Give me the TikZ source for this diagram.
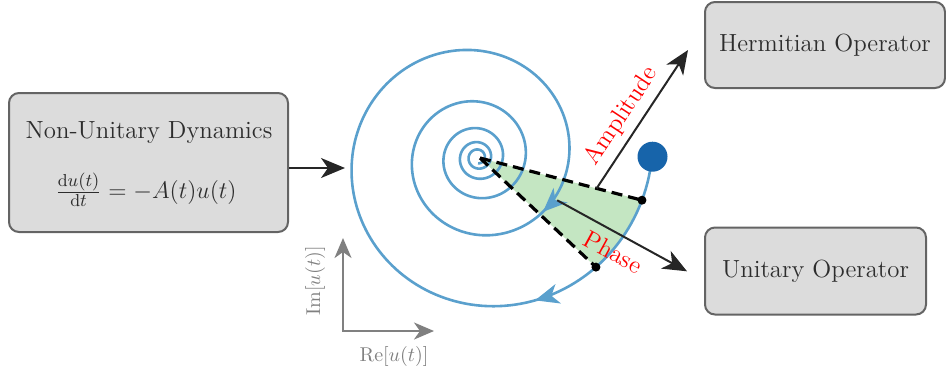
\documentclass[tikz,border=0pt]{standalone}
\usepackage{fontspec}
\usetikzlibrary{arrows.meta,calc,decorations.markings}
\definecolor{spiralblue}{RGB}{90,160,205}
\definecolor{dotblue}{RGB}{23,100,170}
\definecolor{sectorgreen}{RGB}{196,230,194}
\definecolor{boxfill}{RGB}{220,220,220}
\definecolor{boxline}{RGB}{100,100,100}
\definecolor{txtgray}{RGB}{45,45,45}
\definecolor{axisgray}{RGB}{128,128,128}
\begin{document}
\begin{tikzpicture}[x=0.5pt,y=-0.5pt,
  font=\fontsize{12.4}{14.8}\selectfont,
  declare function={sr(\t)=125.8*exp(0.0018064*(\t-180));},
  opbox/.style={draw=boxline, fill=boxfill, line width=1pt, rounded corners=5pt, text=txtgray, inner sep=0pt},
  btext/.style={text=txtgray, inner sep=0pt},
  conn/.style={line width=1pt, draw=black!85, -{Stealth[length=12pt,width=10pt,inset=3.5pt]}},
  spiralline/.style={draw=spiralblue, line width=1.3pt},
  axisline/.style={draw=axisgray, line width=1.3pt, {Stealth[length=10pt,width=8.5pt,inset=3pt]}-{Stealth[length=10pt,width=8.5pt,inset=3pt]}},
  radial/.style={line width=1.6pt, dash pattern=on 5.5pt off 3pt},
  enddot/.style={circle, fill=black, inner sep=0pt, minimum size=4.5pt},
  lbl/.style={text=red},
  axlbl/.style={text=axisgray, font=\fontsize{10}{12}\selectfont},
]
\useasboundingbox (0,0) rectangle (946,377);

% boxes
\node[opbox, minimum width=139.5pt, minimum height=69.5pt] (nud) at (148.5,162.5) {};
\node[btext] (nudtitle) at (149,133) {Non-Unitary Dynamics};
\node[btext] (nudeq) at (146,190) {$\frac{\mathrm{d}u(t)}{\mathrm{d}t} = -A(t)u(t)$};
\node[opbox, minimum width=120pt, minimum height=43pt] (herm) at (825,45) {Hermitian Operator};
\node[opbox, minimum width=110.5pt, minimum height=43.5pt] (unit) at (815.5,271) {Unitary Operator};

% sector
\coordinate (apex) at (480,158);
\coordinate (p1) at ({478+sr(345.4)*cos(345.4)},{157.5-sr(345.4)*sin(345.4)});
\coordinate (p2) at ({478+sr(317.1)*cos(317.1)},{157.5-sr(317.1)*sin(317.1)});
\fill[sectorgreen] (apex) -- plot[domain=345.4:317.1, samples=30] ({478+sr(\x)*cos(\x)},{157.5-sr(\x)*sin(\x)}) -- cycle;

% spiral
\draw[spiralline, postaction={decorate}, decoration={markings,
  mark=at position 98pt with {\arrow[spiralblue]{Stealth[length=12pt,width=10pt,inset=3.5pt]}},
  mark=at position 435pt with {\arrow[spiralblue]{Stealth[length=12pt,width=10pt,inset=3.5pt]}}}]
  plot[domain=360:-1530, samples=900] ({478+sr(\x)*cos(\x)},{157.5-sr(\x)*sin(\x)});
\node[circle, fill=dotblue, minimum size=15pt, inner sep=0pt] (bdot) at (652.5,156.7) {};

\draw[radial] (apex) -- (p1);
\draw[radial] (apex) -- (p2);
\node[enddot] (d1) at (p1) {};
\node[enddot] (d2) at (p2) {};

% arrows
\coordinate (inlet) at (345,168);
\draw[conn] (nud.east |- inlet) -- (inlet);
\coordinate (amps) at ($(apex)!0.72!(p1)$);
\coordinate (ampe) at (688,50);
\draw[conn] (amps) -- (ampe) node[lbl, pos=0.445, sloped, above] {Amplitude};
\coordinate (phs) at (557.2,200.3);
\coordinate (phe) at (687,271.3);
\draw[conn] (phs) -- (phe) node[lbl, pos=0.5, sloped, below=1pt] {Phase};

% axes
\coordinate (org) at (343,331);
\coordinate (imtip) at (343,238);
\coordinate (retip) at (434,331);
\draw[axisline] (imtip) -- (org) -- (retip);
\node[axlbl] (relbl) at (394,356) {$\mathrm{Re}[u(t)]$};
\node[axlbl, rotate=90] (imlbl) at (315,281) {$\mathrm{Im}[u(t)]$};
\end{tikzpicture}
\end{document}
